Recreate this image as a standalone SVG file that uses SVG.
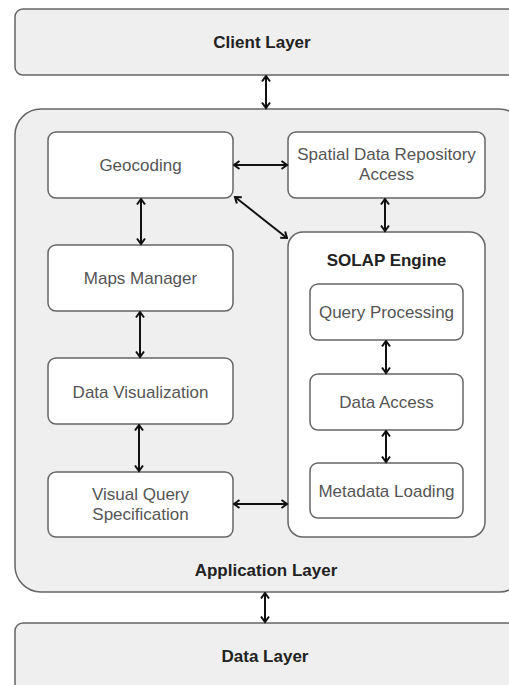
<svg xmlns="http://www.w3.org/2000/svg" width="509" height="685" viewBox="0 0 509 685">
  <defs>
    <marker id="arr" viewBox="0 0 10 10" refX="8.5" refY="5" markerWidth="10" markerHeight="10" orient="auto-start-reverse" markerUnits="userSpaceOnUse">
      <path d="M3,1 L8.5,5 L3,9" fill="none" stroke="#111" stroke-width="2" stroke-linejoin="miter"/>
    </marker>
  </defs>
  <style>
    .layer { fill: #efefef; stroke: #666; stroke-width: 1.5; }
    .box { fill: #ffffff; stroke: #666; stroke-width: 1.5; }
    .title { font-family: "Liberation Sans", Arial, sans-serif; font-size: 17px; font-weight: bold; fill: #222; text-anchor: middle; }
    .label { font-family: "Liberation Sans", Arial, sans-serif; font-size: 17px; fill: #555; text-anchor: middle; }
    .conn line { stroke: #111; stroke-width: 2; fill: none; marker-start: url(#arr); marker-end: url(#arr); }
  </style>
  <rect width="509" height="685" fill="#ffffff"/>

  <g id="client-layer">
    <rect class="layer" x="15" y="9" width="510" height="66" rx="8"/>
    <text class="title" x="262" y="48">Client Layer</text>
  </g>

  <g id="application-layer">
    <rect class="layer" x="15" y="109" width="510" height="483" rx="26"/>
    <text class="title" x="266" y="576">Application Layer</text>
  </g>

  <g id="data-layer">
    <rect class="layer" x="15" y="623" width="510" height="80" rx="8"/>
    <text class="title" x="265" y="662">Data Layer</text>
  </g>

  <g id="geocoding">
    <rect class="box" x="48" y="132" width="185" height="66" rx="8"/>
    <text class="label" x="140.5" y="171">Geocoding</text>
  </g>

  <g id="spatial-data-repository-access">
    <rect class="box" x="288" y="132" width="197" height="66" rx="8"/>
    <text class="label" x="386.5" y="160">Spatial Data Repository</text>
    <text class="label" x="386.5" y="180">Access</text>
  </g>

  <g id="maps-manager">
    <rect class="box" x="48" y="245" width="185" height="66" rx="8"/>
    <text class="label" x="140.5" y="284">Maps Manager</text>
  </g>

  <g id="data-visualization">
    <rect class="box" x="48" y="358" width="185" height="66" rx="8"/>
    <text class="label" x="140.5" y="398">Data Visualization</text>
  </g>

  <g id="visual-query-specification">
    <rect class="box" x="48" y="472" width="185" height="65" rx="8"/>
    <text class="label" x="140.5" y="500">Visual Query</text>
    <text class="label" x="140.5" y="520">Specification</text>
  </g>

  <g id="solap-engine">
    <rect class="box" x="288" y="232" width="197" height="305" rx="15"/>
    <text class="title" x="386.5" y="266">SOLAP Engine</text>
  </g>

  <g id="query-processing">
    <rect class="box" x="310" y="284" width="153" height="56" rx="8"/>
    <text class="label" x="386.5" y="318">Query Processing</text>
  </g>

  <g id="data-access">
    <rect class="box" x="310" y="374" width="153" height="56" rx="8"/>
    <text class="label" x="386.5" y="408">Data Access</text>
  </g>

  <g id="metadata-loading">
    <rect class="box" x="310" y="463" width="153" height="55" rx="8"/>
    <text class="label" x="386.5" y="497">Metadata Loading</text>
  </g>

  <g id="connectors" class="conn">
    <line x1="266" y1="76" x2="266" y2="108"/>
    <line x1="265" y1="593" x2="265" y2="622"/>
    <line x1="234" y1="165" x2="287" y2="165"/>
    <line x1="141" y1="199" x2="141" y2="244"/>
    <line x1="235" y1="197" x2="287" y2="238"/>
    <line x1="385" y1="199" x2="385" y2="231"/>
    <line x1="140" y1="312" x2="140" y2="357"/>
    <line x1="139" y1="425" x2="139" y2="471"/>
    <line x1="234" y1="504" x2="287" y2="504"/>
    <line x1="386" y1="341" x2="386" y2="373"/>
    <line x1="386" y1="431" x2="386" y2="462"/>
  </g>
</svg>
